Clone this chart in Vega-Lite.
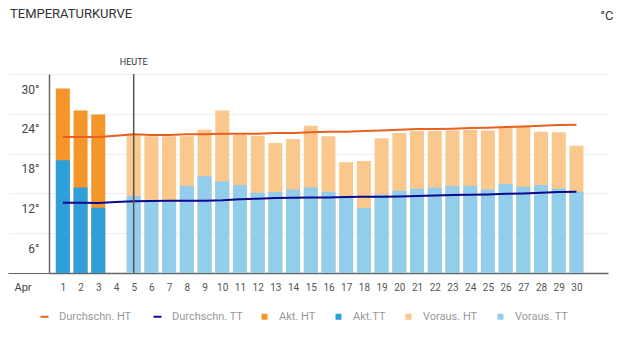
{
  "$schema": "https://vega.github.io/schema/vega-lite/v6.json",
  "autosize": {"type": "none"},
  "width": 559,
  "height": 199,
  "padding": {"left": 49, "top": 74, "right": 18, "bottom": 64},
  "background": "white",
  "title": {"text": "TEMPERATURKURVE", "anchor": "start", "frame": "group", "fontSize": 13, "fontWeight": "normal", "font": "Roboto", "color": "#333333", "dx": -39, "offset": -12},
  "config": {"view": {"stroke": null}, "font": "Roboto"},
  "datasets": {
    "temps": [
      {"day": 1, "series": "Akt. HT", "value": 27.8},
      {"day": 2, "series": "Akt. HT", "value": 24.5},
      {"day": 3, "series": "Akt. HT", "value": 23.9},
      {"day": 5, "series": "Voraus. HT", "value": 21.0},
      {"day": 6, "series": "Voraus. HT", "value": 20.6},
      {"day": 7, "series": "Voraus. HT", "value": 20.6},
      {"day": 8, "series": "Voraus. HT", "value": 20.6},
      {"day": 9, "series": "Voraus. HT", "value": 21.6},
      {"day": 10, "series": "Voraus. HT", "value": 24.5},
      {"day": 11, "series": "Voraus. HT", "value": 20.8},
      {"day": 12, "series": "Voraus. HT", "value": 20.7},
      {"day": 13, "series": "Voraus. HT", "value": 19.6},
      {"day": 14, "series": "Voraus. HT", "value": 20.2},
      {"day": 15, "series": "Voraus. HT", "value": 22.2},
      {"day": 16, "series": "Voraus. HT", "value": 20.6},
      {"day": 17, "series": "Voraus. HT", "value": 16.7},
      {"day": 18, "series": "Voraus. HT", "value": 16.9},
      {"day": 19, "series": "Voraus. HT", "value": 20.3},
      {"day": 20, "series": "Voraus. HT", "value": 21.1},
      {"day": 21, "series": "Voraus. HT", "value": 21.4},
      {"day": 22, "series": "Voraus. HT", "value": 21.4},
      {"day": 23, "series": "Voraus. HT", "value": 21.5},
      {"day": 24, "series": "Voraus. HT", "value": 21.6},
      {"day": 25, "series": "Voraus. HT", "value": 21.5},
      {"day": 26, "series": "Voraus. HT", "value": 21.9},
      {"day": 27, "series": "Voraus. HT", "value": 22.0},
      {"day": 28, "series": "Voraus. HT", "value": 21.3},
      {"day": 29, "series": "Voraus. HT", "value": 21.2},
      {"day": 30, "series": "Voraus. HT", "value": 19.2},
      {"day": 1, "series": "Akt.TT", "value": 17.0},
      {"day": 2, "series": "Akt.TT", "value": 12.9},
      {"day": 3, "series": "Akt.TT", "value": 9.85},
      {"day": 5, "series": "Voraus. TT", "value": 11.6},
      {"day": 6, "series": "Voraus. TT", "value": 10.7},
      {"day": 7, "series": "Voraus. TT", "value": 10.7},
      {"day": 8, "series": "Voraus. TT", "value": 13.1},
      {"day": 9, "series": "Voraus. TT", "value": 14.6},
      {"day": 10, "series": "Voraus. TT", "value": 13.85},
      {"day": 11, "series": "Voraus. TT", "value": 13.25},
      {"day": 12, "series": "Voraus. TT", "value": 12.1},
      {"day": 13, "series": "Voraus. TT", "value": 12.2},
      {"day": 14, "series": "Voraus. TT", "value": 12.6},
      {"day": 15, "series": "Voraus. TT", "value": 12.9},
      {"day": 16, "series": "Voraus. TT", "value": 12.25},
      {"day": 17, "series": "Voraus. TT", "value": 11.6},
      {"day": 18, "series": "Voraus. TT", "value": 9.8},
      {"day": 19, "series": "Voraus. TT", "value": 11.85},
      {"day": 20, "series": "Voraus. TT", "value": 12.4},
      {"day": 21, "series": "Voraus. TT", "value": 12.7},
      {"day": 22, "series": "Voraus. TT", "value": 12.9},
      {"day": 23, "series": "Voraus. TT", "value": 13.1},
      {"day": 24, "series": "Voraus. TT", "value": 13.1},
      {"day": 25, "series": "Voraus. TT", "value": 12.6},
      {"day": 26, "series": "Voraus. TT", "value": 13.4},
      {"day": 27, "series": "Voraus. TT", "value": 13.0},
      {"day": 28, "series": "Voraus. TT", "value": 13.25},
      {"day": 29, "series": "Voraus. TT", "value": 12.75},
      {"day": 30, "series": "Voraus. TT", "value": 12.25},
      {"day": 1, "series": "Durchschn. HT", "value": 20.5},
      {"day": 2, "series": "Durchschn. HT", "value": 20.5},
      {"day": 3, "series": "Durchschn. HT", "value": 20.5},
      {"day": 4, "series": "Durchschn. HT", "value": 20.7},
      {"day": 5, "series": "Durchschn. HT", "value": 20.9},
      {"day": 6, "series": "Durchschn. HT", "value": 20.8},
      {"day": 7, "series": "Durchschn. HT", "value": 20.8},
      {"day": 8, "series": "Durchschn. HT", "value": 20.9},
      {"day": 9, "series": "Durchschn. HT", "value": 20.9},
      {"day": 10, "series": "Durchschn. HT", "value": 21.0},
      {"day": 11, "series": "Durchschn. HT", "value": 21.0},
      {"day": 12, "series": "Durchschn. HT", "value": 21.0},
      {"day": 13, "series": "Durchschn. HT", "value": 21.1},
      {"day": 14, "series": "Durchschn. HT", "value": 21.1},
      {"day": 15, "series": "Durchschn. HT", "value": 21.2},
      {"day": 16, "series": "Durchschn. HT", "value": 21.3},
      {"day": 17, "series": "Durchschn. HT", "value": 21.3},
      {"day": 18, "series": "Durchschn. HT", "value": 21.4},
      {"day": 19, "series": "Durchschn. HT", "value": 21.5},
      {"day": 20, "series": "Durchschn. HT", "value": 21.6},
      {"day": 21, "series": "Durchschn. HT", "value": 21.7},
      {"day": 22, "series": "Durchschn. HT", "value": 21.7},
      {"day": 23, "series": "Durchschn. HT", "value": 21.75},
      {"day": 24, "series": "Durchschn. HT", "value": 21.85},
      {"day": 25, "series": "Durchschn. HT", "value": 21.9},
      {"day": 26, "series": "Durchschn. HT", "value": 22.0},
      {"day": 27, "series": "Durchschn. HT", "value": 22.1},
      {"day": 28, "series": "Durchschn. HT", "value": 22.2},
      {"day": 29, "series": "Durchschn. HT", "value": 22.3},
      {"day": 30, "series": "Durchschn. HT", "value": 22.35},
      {"day": 1, "series": "Durchschn. TT", "value": 10.6},
      {"day": 2, "series": "Durchschn. TT", "value": 10.6},
      {"day": 3, "series": "Durchschn. TT", "value": 10.55},
      {"day": 4, "series": "Durchschn. TT", "value": 10.7},
      {"day": 5, "series": "Durchschn. TT", "value": 10.8},
      {"day": 6, "series": "Durchschn. TT", "value": 10.85},
      {"day": 7, "series": "Durchschn. TT", "value": 10.9},
      {"day": 8, "series": "Durchschn. TT", "value": 10.9},
      {"day": 9, "series": "Durchschn. TT", "value": 10.9},
      {"day": 10, "series": "Durchschn. TT", "value": 10.95},
      {"day": 11, "series": "Durchschn. TT", "value": 11.1},
      {"day": 12, "series": "Durchschn. TT", "value": 11.2},
      {"day": 13, "series": "Durchschn. TT", "value": 11.3},
      {"day": 14, "series": "Durchschn. TT", "value": 11.35},
      {"day": 15, "series": "Durchschn. TT", "value": 11.4},
      {"day": 16, "series": "Durchschn. TT", "value": 11.4},
      {"day": 17, "series": "Durchschn. TT", "value": 11.45},
      {"day": 18, "series": "Durchschn. TT", "value": 11.5},
      {"day": 19, "series": "Durchschn. TT", "value": 11.5},
      {"day": 20, "series": "Durchschn. TT", "value": 11.55},
      {"day": 21, "series": "Durchschn. TT", "value": 11.6},
      {"day": 22, "series": "Durchschn. TT", "value": 11.7},
      {"day": 23, "series": "Durchschn. TT", "value": 11.75},
      {"day": 24, "series": "Durchschn. TT", "value": 11.8},
      {"day": 25, "series": "Durchschn. TT", "value": 11.85},
      {"day": 26, "series": "Durchschn. TT", "value": 11.95},
      {"day": 27, "series": "Durchschn. TT", "value": 12.0},
      {"day": 28, "series": "Durchschn. TT", "value": 12.1},
      {"day": 29, "series": "Durchschn. TT", "value": 12.2},
      {"day": 30, "series": "Durchschn. TT", "value": 12.25}
    ],
    "today": [{"day": 5, "label": "HEUTE"}]
  },
  "data": {"name": "temps"},
  "encoding": {
    "x": {
      "field": "day",
      "type": "quantitative",
      "scale": {"domain": [0.5, 31.5], "nice": false, "zero": false},
      "axis": {
        "values": [1,2,3,4,5,6,7,8,9,10,11,12,13,14,15,16,17,18,19,20,21,22,23,24,25,26,27,28,29,30],
        "tickCount": 60,
        "format": "d",
        "title": "Apr",
        "titleX": -35,
        "titleY": 14,
        "titleAlign": "left",
        "titleBaseline": "middle",
        "titleFontWeight": "normal",
        "titleFontSize": 11,
        "titleColor": "#444444",
        "labelFontSize": 10,
        "labelColor": "#555555",
        "labelPadding": 9,
        "labelFlush": false,
        "labelOverlap": false,
        "ticks": false,
        "grid": false,
        "domainColor": "#666666",
        "domainWidth": 1.5
      }
    }
  },
  "layer": [
    {
      "transform": [{"filter": "datum.series == 'Akt. HT' || datum.series == 'Voraus. HT'"}],
      "mark": {"type": "bar", "width": 14},
      "encoding": {
        "y": {
          "field": "value",
          "type": "quantitative",
          "stack": null,
          "scale": {"domain": [0, 30], "nice": false},
          "axis": {
            "values": [0, 6, 12, 18, 24, 30],
            "tickCount": 12,
            "title": "°C",
            "titleAngle": 0,
            "titleX": 564,
            "titleY": -59,
            "titleAlign": "right",
            "titleBaseline": "middle",
            "titleFontSize": 13,
            "titleFontWeight": "normal",
            "titleColor": "#333333",
            "labelExpr": "datum.value == 0 ? '' : datum.value + '°'",
            "labelFontSize": 12,
            "labelColor": "#444444",
            "labelOffset": 15,
            "labelOverlap": false,
            "tickSize": 41,
            "tickColor": {"condition": {"test": "datum.value == 0", "value": "#666666"}, "value": "#eeeeee"},
            "labelPadding": -31,
            "gridColor": "#eeeeee",
            "domainColor": "#666666",
            "domainWidth": 1.5
          }
        },
        "fill": {
          "field": "series",
          "type": "nominal",
          "scale": {
            "domain": ["Akt. HT", "Akt.TT", "Voraus. HT", "Voraus. TT"],
            "range": ["#f5962a", "#2e9fd8", "#fac78c", "#93cdec"]
          },
          "legend": {
            "orient": "none",
            "legendX": 210,
            "legendY": 237,
            "direction": "horizontal",
            "columns": 4,
            "title": null,
            "labelFontSize": 11,
            "labelColor": "#999999",
            "labelOffset": 9,
            "columnPadding": 17,
            "symbolSize": 36,
            "symbolType": "square"
          }
        }
      }
    },
    {
      "transform": [{"filter": "datum.series == 'Akt.TT' || datum.series == 'Voraus. TT'"}],
      "mark": {"type": "bar", "width": 14},
      "encoding": {
        "y": {"field": "value", "type": "quantitative", "stack": null},
        "fill": {"field": "series", "type": "nominal"}
      }
    },
    {
      "transform": [{"filter": "indexof(datum.series, 'Durchschn') >= 0"}],
      "mark": {"type": "line", "strokeWidth": 2},
      "encoding": {
        "y": {"field": "value", "type": "quantitative"},
        "stroke": {
          "field": "series",
          "type": "nominal",
          "scale": {"domain": ["Durchschn. HT", "Durchschn. TT"], "range": ["#e8601c", "#0a0a8c"]},
          "legend": {
            "orient": "none",
            "legendX": -10,
            "legendY": 237,
            "direction": "horizontal",
            "columns": 2,
            "title": null,
            "labelFontSize": 11,
            "labelColor": "#999999",
            "labelOffset": 9,
            "columnPadding": 17,
            "symbolSize": 64,
            "symbolType": "stroke",
            "symbolStrokeWidth": 2
          }
        }
      }
    },
    {
      "data": {"name": "today"},
      "mark": {"type": "rule", "color": "#555555", "strokeWidth": 1.5},
      "encoding": {}
    },
    {
      "data": {"name": "today"},
      "mark": {"type": "text", "color": "#333333", "fontSize": 9, "dy": -12, "baseline": "middle"},
      "encoding": {"y": {"datum": 30}, "text": {"field": "label"}}
    }
  ]
}
